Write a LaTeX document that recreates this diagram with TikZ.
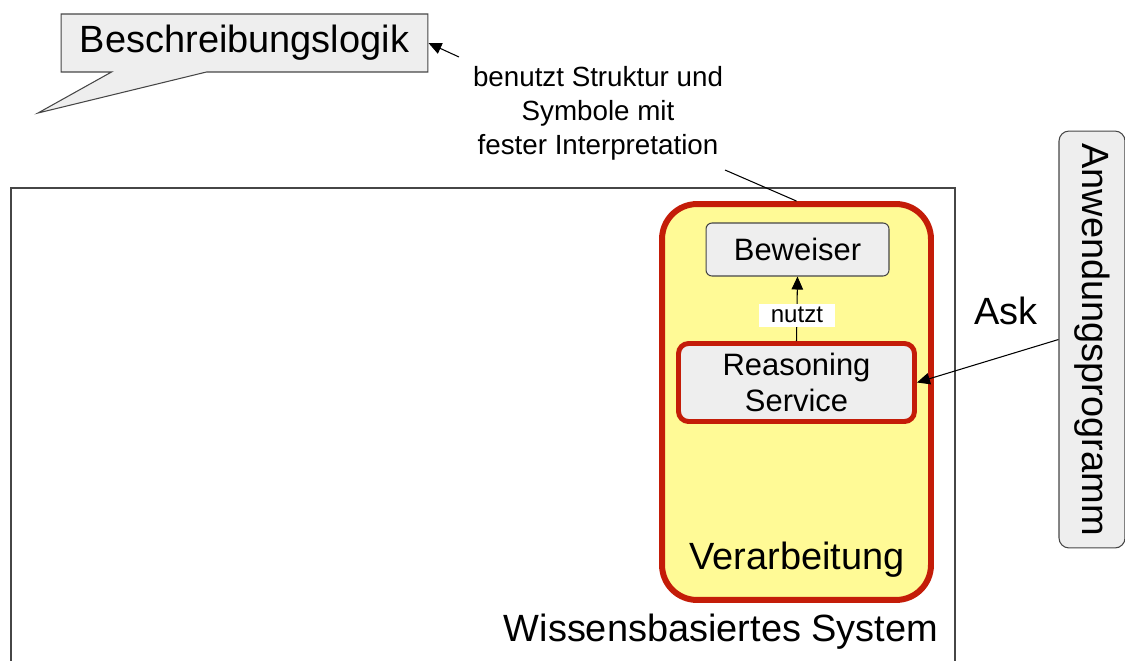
\documentclass[tikz,border=0pt]{standalone}
\usepackage{fontspec}
\setmainfont{Liberation Sans}
\usetikzlibrary{arrows.meta,shapes.callouts}

\definecolor{boxgray}{RGB}{238,238,238}
\definecolor{procred}{RGB}{196,28,8}
\definecolor{procyellow}{RGB}{255,250,150}
\definecolor{frame}{RGB}{70,70,70}

\tikzset{
    big/.style={font=\fontsize{21.6}{26}\selectfont},
    mid/.style={font=\fontsize{17.6}{21}\selectfont},
    small/.style={font=\fontsize{15.8}{19.4}\selectfont},
    tiny/.style={font=\fontsize{13.7}{16}\selectfont},
    graybox/.style={draw=frame,fill=boxgray,line width=0.6pt,inner sep=0pt},
    conn/.style={-{Triangle[length=2.6mm,width=2.3mm]},line width=0.6pt},
}

\begin{document}
\begin{tikzpicture}[x=0.02cm,y=-0.02cm]
    \useasboundingbox (0,0) rectangle (1125,660);

    % system frame, runs off the bottom
    \node[draw=frame,line width=1.1pt,minimum width=18.88cm,minimum height=9.8cm,inner sep=0pt] (system) at (483,433) {};
    \node[big] (systemlabel) at (721,632) {Wissensbasiertes System};

    % processing block
    \node[draw=procred,fill=procyellow,line width=3.4pt,rounded corners=0.7cm,minimum width=5.38cm,minimum height=7.92cm,inner sep=0pt] (proc) at (796.5,402) {};
    \node[big] (proclabel) at (797,560) {Verarbeitung};

    \node[graybox,rounded corners=0.12cm,minimum width=3.66cm,minimum height=1.06cm,mid] (prover) at (797.5,249.5) {Beweiser};
    \node[graybox,draw=procred,line width=2.8pt,rounded corners=0.2cm,minimum width=4.72cm,minimum height=1.56cm,mid,align=center] (reasoning) at (796.5,382.5) {Reasoning\\[-1pt]Service};

    \draw[conn] (reasoning.north) -- node[pos=0.4,fill=white,tiny,inner xsep=7pt,inner ysep=2pt] (uses) {nutzt} (prover.south);

    % application on the right
    \node[graybox,rounded corners=0.2cm,rotate=-90,minimum width=8.34cm,minimum height=1.32cm,big] (app) at (1092,339.5) {Anwendungsprogramm};
    \draw[conn] (app.south) -- (reasoning.east);
    \node[big] (ask) at (1006,311) {Ask};

    % description logic callout
    \node[graybox,rectangle callout,callout absolute pointer={(38,113)},callout pointer width=1.9cm,minimum width=7.34cm,minimum height=1.16cm,big] (dl) at (244.5,43) {Beschreibungslogik};

    \node[small,align=center] (uses2) at (598,113) {benutzt Struktur und\\Symbole mit\\fester Interpretation};
    \coordinate (a1) at (459,57);
    \coordinate (a2) at (725,170);
    \draw[conn] (a1) -- (dl.east);
    \draw[line width=0.6pt] (a2) -- (proc.north);
\end{tikzpicture}
\end{document}
